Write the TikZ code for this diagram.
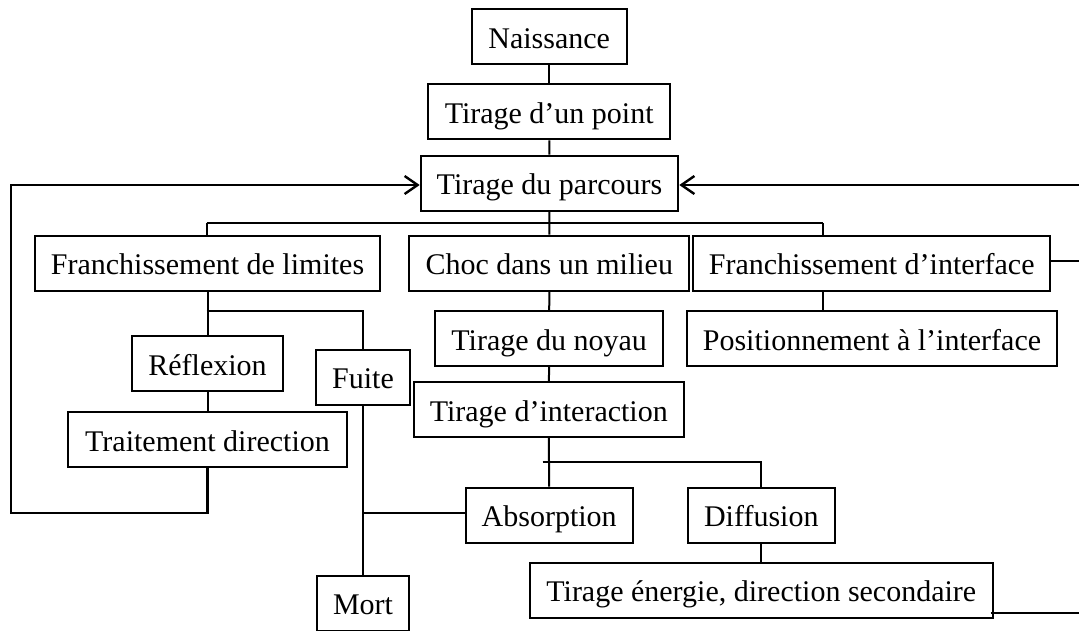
\documentclass[tikz,border=0pt]{standalone}
\usepackage{fontspec}
\setmainfont{Liberation Serif}
\usetikzlibrary{arrows.meta}
\begin{document}
\begin{tikzpicture}[x=1pt,y=-1pt,
  box/.style={draw, line width=2pt, inner sep=0pt, minimum height=55pt,
    font=\fontsize{30}{36}\selectfont, text height=25pt, text depth=2pt, anchor=center},
  link/.style={line width=2pt},
  back/.style={line width=2.4pt, -{Straight Barb[length=13pt,width=18pt,line width=2.4pt]}}]
\useasboundingbox (0,0) rectangle (1079,630);
% boxes
\node[box, minimum width=155pt] (nais) at (549.2,36.7) {Naissance};
\node[box, minimum width=242pt] (point) at (549.2,111.8) {Tirage d’un point};
\node[box, minimum width=257.6pt] (parc) at (549.5,183) {Tirage du parcours};
\node[box, minimum width=345pt] (lim) at (207.5,263.3) {Franchissement de limites};
\node[box, minimum width=280pt] (choc) at (549.3,263.2) {Choc dans un milieu};
\node[box, minimum width=356.7pt] (finter) at (871.7,263.2) {Franchissement d’interface};
\node[box, minimum width=369.4pt] (posit) at (872,338.8) {Positionnement à l’interface};
\node[box, minimum width=228.3pt] (noyau) at (549.2,338.5) {Tirage du noyau};
\node[box, minimum width=270.5pt] (inter) at (548.8,409.7) {Tirage d’interaction};
\node[box, minimum width=150.4pt] (refl) at (207.5,363.8) {Réflexion};
\node[box, minimum width=94pt] (fuite) at (363,377.2) {Fuite};
\node[box, minimum width=278.4pt] (trait) at (207.5,439.5) {Traitement direction};
\node[box, minimum width=167pt] (absorp) at (549.2,515) {Absorption};
\node[box, minimum width=147.3pt] (diff) at (761.3,515) {Diffusion};
\node[box, minimum width=462.7pt] (energ) at (761.3,590.2) {Tirage énergie, direction secondaire};
\node[box, minimum width=92.6pt] (mort) at (363,603.2) {Mort};
% helper coordinates
\coordinate (busA) at (206.7,223.3);
\coordinate (busB) at (822.7,223.3);
\coordinate (busC) at (206.7,310.7);
\coordinate (busD) at (542.7,462.3);
\coordinate (loopL) at (11,512.7);
\coordinate (fuiteJ) at (363,512.7);
\coordinate (edgeTop) at (1079,185);
\coordinate (edgeMid) at (1079,261);
\coordinate (edgeBot) at (1079,612.7);
% connectors
\draw[link] (nais) -- (point);
\draw[link] (point) -- (parc);
\draw[link] (parc) -- (choc);
\draw[link] (busA) -- (busB);
\draw[link] (busA) -- (busA |- lim.north);
\draw[link] (busB) -- (busB |- finter.north);
\draw[link] (busB |- finter.south) -- (busB |- posit.north);
\draw[link] (choc) -- (noyau);
\draw[link] (noyau) -- (inter);
\draw[link] (lim.south) -- (refl.north);
\draw[link] (busC) -| (fuite.north);
\draw[link] (refl) -- (trait);
\draw[link] (fuite) -- (mort);
\draw[link] (fuiteJ) -- (fuiteJ -| absorp.west);
\draw[link] (inter) -- (absorp);
\draw[link] (busD) -| (diff.north);
\draw[link] (diff) -- (energ);
\draw[link] (finter.east |- edgeMid) -- (edgeMid);
\draw[link] ([xshift=-3pt]energ.east |- edgeBot) -- (edgeBot);
\draw[back] (trait.south) |- (loopL) |- (edgeTop -| parc.west);
\draw[back] (edgeTop) -- (edgeTop -| parc.east);
\end{tikzpicture}
\end{document}
